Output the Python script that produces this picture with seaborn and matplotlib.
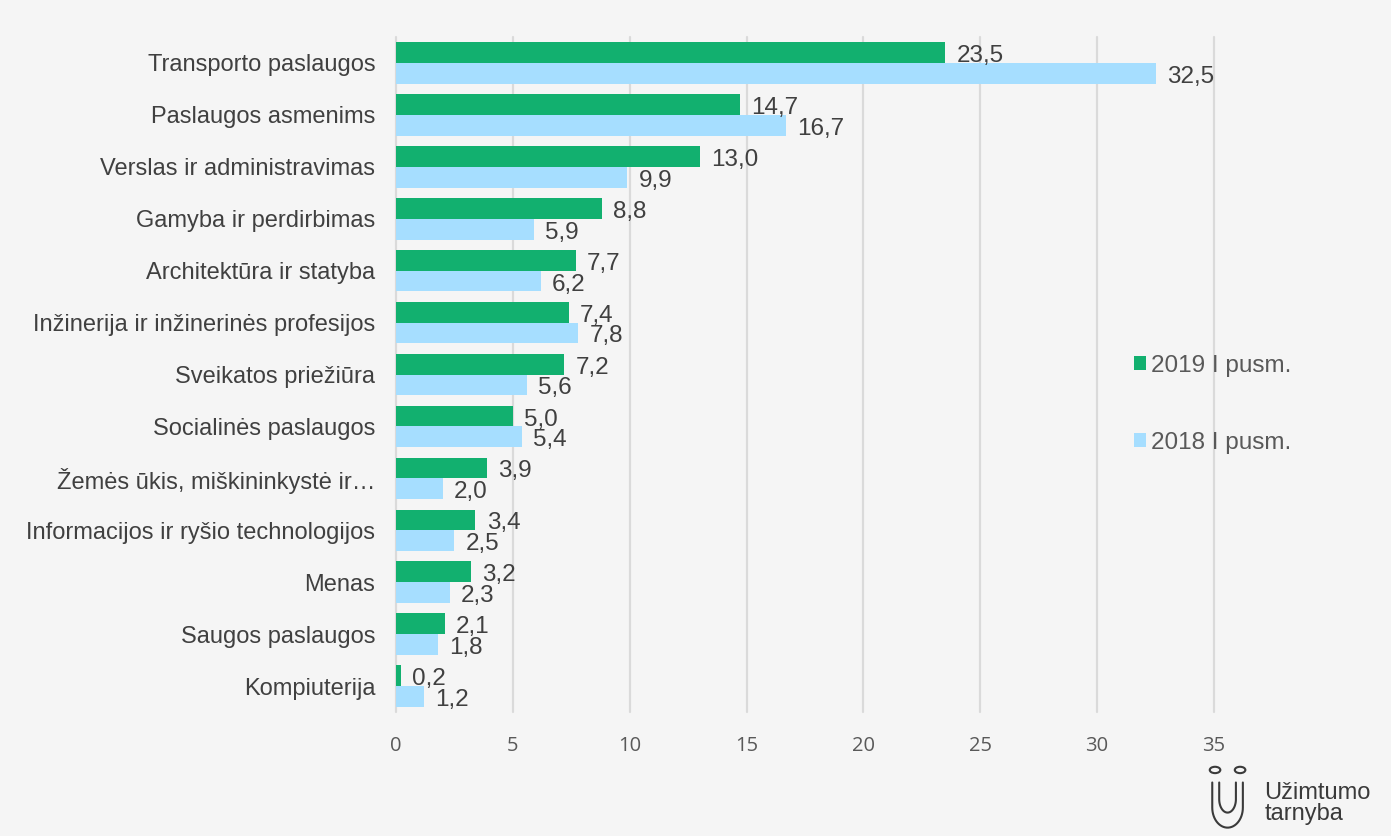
import pandas as pd
import numpy as np
import matplotlib.pyplot as plt
import seaborn as sns

# data
categories = [
    "Transporto paslaugos",
    "Paslaugos asmenims",
    "Verslas ir administravimas",
    "Gamyba ir perdirbimas",
    "Architektūra ir statyba",
    "Inžinerija ir inžinerinės profesijos",
    "Sveikatos priežiūra",
    "Socialinės paslaugos",
    "Žemės ūkis, miškininkystė ir…",
    "Informacijos ir ryšio technologijos",
    "Menas",
    "Saugos paslaugos",
    "Kompiuterija",
]
values_2019 = [23.5, 14.7, 13.0, 8.8, 7.7, 7.4, 7.2, 5.0, 3.9, 3.4, 3.2, 2.1, 0.2]
values_2018 = [32.5, 16.7, 9.9, 5.9, 6.2, 7.8, 5.6, 5.4, 2.0, 2.5, 2.3, 1.8, 1.2]
series = ["2019 I pusm.", "2018 I pusm."]
colors = ["#12B06F", "#A6DEFF"]

df = pd.DataFrame({
    "Kategorija": categories * 2,
    "Reikšmė": values_2019 + values_2018,
    "Laikotarpis": [series[0]] * len(categories) + [series[1]] * len(categories),
})

sns.set_style("white")
plt.rcParams["font.family"] = ["Liberation Sans", "DejaVu Sans"]
bg = "#F5F5F5"
txt = "#404040"

fig = plt.figure(figsize=(13.91, 8.36), dpi=100, facecolor=bg)
ax = fig.add_axes([0.2847, 0.1483, 0.588, 0.8074])
ax.set_facecolor(bg)

sns.barplot(data=df, y="Kategorija", x="Reikšmė", hue="Laikotarpis",
            order=categories, hue_order=series, palette=colors,
            orient="h", width=0.8, saturation=1, linewidth=0, ax=ax)

for cont, vals in zip(ax.containers, [values_2019, values_2018]):
    anns = ax.bar_label(cont, labels=[f"{v:.1f}".replace(".", ",") for v in vals],
                        padding=8, fontsize=17.5, color=txt)
    for a in anns:
        a.xyann = (8, -2.5)

ax.set_xlim(0, 35)
ax.set_xticks(range(0, 36, 5))
ax.xaxis.grid(True, color="#DADADA", linewidth=1.6)
for gl in ax.get_xgridlines():
    gl.set_clip_on(False)
ax.set_axisbelow(True)
for s in ax.spines.values():
    s.set_visible(False)
ax.tick_params(axis="x", length=0, labelsize=14.5, colors="#595959", pad=17)
for lbl in ax.get_xticklabels():
    lbl.set_fontfamily("Open Sans")
ax.tick_params(axis="y", length=0, labelsize=17, colors=txt, pad=15)
ax.set_xlabel("")
ax.set_ylabel("")

leg = ax.legend(loc="center left", bbox_to_anchor=(0.875, 0.456), frameon=False,
                fontsize=17.5, labelspacing=2.25, handlelength=0.5, handleheight=0.5,
                handletextpad=0.2, labelcolor="#595959")

# logo
fig.text(0.909, 0.013, "Užimtumo\ntarnyba", fontsize=17, color="#3a3a3a",
         ha="left", va="bottom", linespacing=0.95)
lc = "#3a3a3a"
fig.add_artist(plt.Circle((0.8735, 0.079), 0.0038, transform=fig.transFigure,
                          fill=False, color=lc, lw=1.5))
fig.add_artist(plt.Circle((0.8915, 0.079), 0.0038, transform=fig.transFigure,
                          fill=False, color=lc, lw=1.5))
t = np.linspace(np.pi, 2 * np.pi, 30)
ux = 0.8825 + 0.011 * np.cos(t)
uy = 0.034 + 0.024 * np.sin(t)
fig.add_artist(plt.Line2D(np.r_[0.8715, ux, 0.8935], np.r_[0.064, uy, 0.064],
                          transform=fig.transFigure, color=lc, lw=1.5))
fig.add_artist(plt.Line2D(np.r_[0.8765, 0.8825 + 0.006 * np.cos(t), 0.8885],
                          np.r_[0.064, 0.044 + 0.016 * np.sin(t), 0.064],
                          transform=fig.transFigure, color=lc, lw=1.5))

fig.savefig("out.png", dpi=100, facecolor=bg)
